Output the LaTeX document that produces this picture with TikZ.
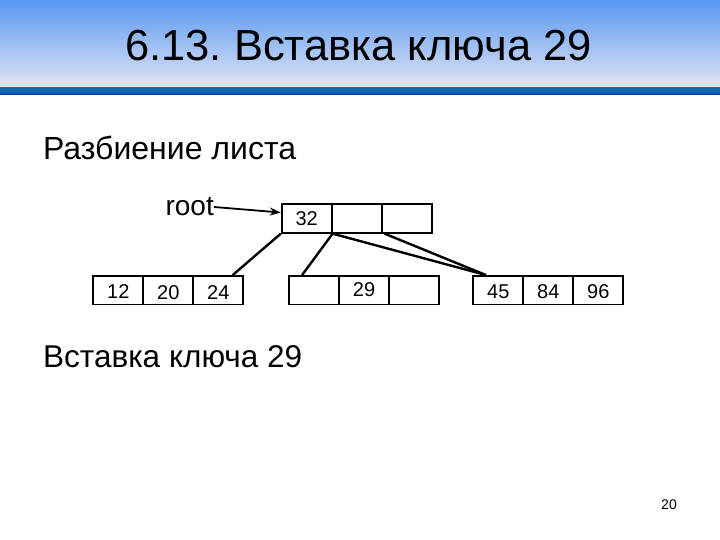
\documentclass[tikz,border=0pt]{standalone}
\usepackage{fontspec}
\setmainfont{Liberation Sans}
\frenchspacing
\usetikzlibrary{arrows.meta,calc}
\definecolor{bandtop}{RGB}{88,152,240}
\definecolor{bandbot}{RGB}{224,228,245}
\definecolor{barblue}{RGB}{18,102,190}
\definecolor{bardark}{RGB}{12,76,140}
\tikzset{
  cell/.style={draw=black, line width=1.8pt, minimum width=50pt, minimum height=28.5pt,
    inner sep=0pt, text height=14.3pt, text depth=0pt,
    font=\fontsize{20}{22}\selectfont, anchor=center},
  edge/.style={line width=2.4pt, black},
  heading/.style={font=\fontsize{32}{36}\selectfont, anchor=west, inner sep=0pt},
}
\begin{document}
\begin{tikzpicture}[x=1pt,y=-1pt]
\useasboundingbox (0,0) rectangle (720,540);
\fill[white] (0,0) rectangle (720,540);
% title band
\shade[top color=bandtop, bottom color=bandbot] (0,0) rectangle (720,87);
\fill[barblue] (0,87) rectangle (720,93);
\fill[bardark] (0,93) rectangle (720,95.5);
\node[font=\fontsize{43.5}{48}\selectfont, inner sep=0pt] (title) at (358.5,46) {6.13. Вставка ключа 29};
% headings
\node[heading] (h1) at (43,148) {Разбиение листа};
\node[heading, font=\fontsize{31.5}{36}\selectfont] (h2) at (43,357) {Вставка ключа 29};
% root
\node[cell] (r1) at (306.7,218.5) {32};
\node[cell] (r2) at (356.7,218.5) {};
\node[cell] (r3) at (406.7,218.5) {};
% leaf 1
\node[cell] (a1) at (118.3,290.2) {\raisebox{-1.2pt}{12}};
\node[cell] (a2) at (168.3,290.2) {\raisebox{-2.5pt}{20}};
\node[cell] (a3) at (218.3,290.2) {\raisebox{-2.5pt}{24}};
% leaf 2
\node[cell] (b1) at (314,290.2) {};
\node[cell] (b2) at (364,290.2) {\raisebox{1.2pt}{29}};
\node[cell] (b3) at (414,290.2) {};
% leaf 3
\node[cell] (c1) at (498.3,290.2) {\raisebox{-1.2pt}{45}};
\node[cell] (c2) at (548.3,290.2) {\raisebox{-1.2pt}{84}};
\node[cell] (c3) at (598.3,290.2) {\raisebox{-1.2pt}{96}};
% root label
\node[font=\fontsize{28}{30}\selectfont, inner sep=0pt, anchor=east] (root) at (214,207) {root};
\draw[line width=1.8pt, -{Stealth[length=11pt,width=8pt]}] (root.east) -- (r1.west |- 0,212.5);
% connectors
\draw[edge] (r1.south west) -- ($(a3.north east)+(-11.5,0)$);
\draw[edge] (r1.south east) -- ($(b1.north west)+(14,0)$);
\draw[edge] (r1.south east) -- ($(c1.north west)+(13.5,0)$);
\draw[edge] ($(r2.south east)+(2,0)$) -- ($(c1.north west)+(13.5,0)$);
% page number
\node[font=\fontsize{14}{16}\selectfont, inner sep=0pt] (pg) at (669,505) {20};
\end{tikzpicture}
\end{document}
